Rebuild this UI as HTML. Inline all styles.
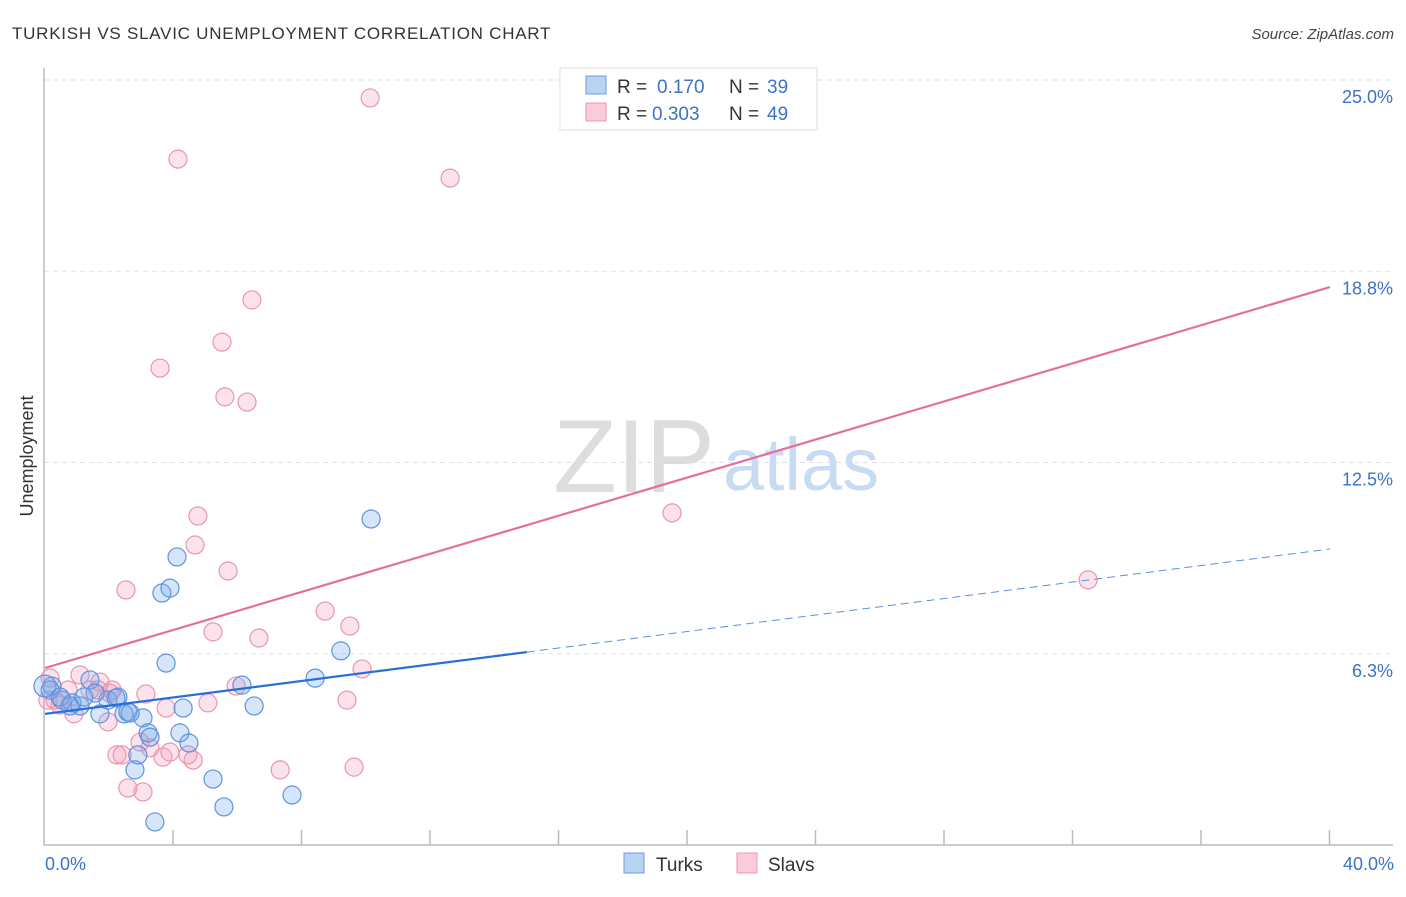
<!DOCTYPE html>
<html><head><meta charset="utf-8"><style>
body{margin:0;background:#fff;font-family:"Liberation Sans",sans-serif;}
svg text{font-family:"Liberation Sans",sans-serif;}
</style></head><body>
<svg id="chart" width="1406" height="892" viewBox="0 0 1406 892">
<text x="12" y="39" font-size="17" fill="#333" letter-spacing="0.75">TURKISH VS SLAVIC UNEMPLOYMENT CORRELATION CHART</text>
<text x="1394" y="39" font-size="15" fill="#444" font-style="italic" text-anchor="end">Source: ZipAtlas.com</text>
<g id="grid"></g>
<text x="634" y="492" font-size="104" fill="#ddd" font-family="Liberation Serif" text-anchor="middle">ZIP</text>
<text x="801" y="490" font-size="74" fill="#c9dbf2" text-anchor="middle">atlas</text>
<line x1="44" y1="68" x2="44" y2="845" stroke="#bbb" stroke-width="1.5"/>
<line x1="44" y1="845" x2="1393" y2="845" stroke="#bbb" stroke-width="1.5"/>
<g id="ticks"></g>
<g id="ylabels"></g>
<text transform="translate(33,456) rotate(-90)" font-size="18" fill="#333" text-anchor="middle">Unemployment</text>
<text x="45" y="870" font-size="18" fill="#3d72c9">0.0%</text>
<text x="1394" y="870" font-size="18" fill="#3d72c9" text-anchor="end">40.0%</text>
<g id="pts"></g>
<g id="lines"></g>
<g>
<rect x="560" y="68" width="257" height="62" fill="#fff" stroke="#ddd"/>
<rect x="586" y="76" width="20" height="18" fill="#b9d3f3" stroke="#6a9be0"/>
<rect x="586" y="103" width="20" height="18" fill="#fbcbd9" stroke="#e898b2"/>
<text x="617" y="93" font-size="19" fill="#333">R = <tspan x="657" fill="#3d72c9">0.170</tspan><tspan x="729">N = </tspan><tspan x="767" fill="#3d72c9">39</tspan></text>
<text x="617" y="120" font-size="19" fill="#333">R = <tspan x="652" fill="#3d72c9">0.303</tspan><tspan x="729">N = </tspan><tspan x="767" fill="#3d72c9">49</tspan></text>
</g>
<g>
<rect x="624" y="853" width="20" height="20" fill="#b9d3f3" stroke="#6a9be0"/>
<text x="656" y="871" font-size="19" fill="#333">Turks</text>
<rect x="737" y="853" width="20" height="20" fill="#fbcbd9" stroke="#e898b2"/>
<text x="768" y="871" font-size="19" fill="#333">Slavs</text>
</g>
</svg>
<script>
const yTicks=[6.25,12.5,18.75,25];
const yTickLabels=["6.3%","12.5%","18.8%","25.0%"];
const turksX=[0.22,0.16,0.53,0.84,1.09,1.40,1.71,1.96,2.27,2.46,2.58,3.05,3.21,3.27,3.64,3.89,4.11,3.77,4.30,4.20,4.48,2.80,2.89,3.42,5.23,5.57,6.13,6.51,7.69,8.41,9.21,10.15,2.21,0.47,1.56,0.78,2.65,0.0,1.21];
const turksY=[5.75,5.62,5.29,5.20,5.10,5.95,4.84,5.29,5.39,4.84,4.90,4.71,4.22,4.08,8.79,8.95,9.97,6.50,5.03,4.22,3.89,3.01,3.50,1.31,2.71,1.80,5.78,5.10,2.19,6.01,6.90,11.21,5.36,5.39,5.52,5.10,4.87,5.75,5.39];
const slavsX=[0.16,0.31,0.72,0.90,1.09,1.40,1.71,1.96,2.02,2.24,2.40,2.52,2.58,3.05,3.14,3.58,3.67,3.77,3.89,4.14,4.45,4.61,4.67,4.76,5.07,5.23,5.70,5.60,5.51,5.95,6.29,6.44,6.66,7.32,8.72,9.40,9.49,9.62,9.87,10.12,12.61,19.52,32.47,0.09,0.47,1.65,2.09,2.96,3.27];
const slavsY=[6.01,5.29,5.62,4.84,6.11,5.62,5.88,4.58,5.52,3.50,3.50,8.89,2.42,2.29,5.49,16.14,3.43,5.03,3.59,22.97,3.50,3.33,10.36,11.31,5.20,7.52,9.51,15.20,16.99,5.75,15.03,18.37,7.32,3.01,8.20,5.29,7.71,3.10,6.31,24.97,22.35,11.41,9.22,5.29,5.13,5.62,5.62,3.92,3.73];
const turksTrend=[[0,4.84],[15,6.86],[40,10.23]];
const slavsTrend=[[0,6.34],[40,18.79]];
const NS="http://www.w3.org/2000/svg";
const X=v=>45+v/40*1285;
const Yp=v=>862-v*30.6;
function mk(tag,attrs,parent){const e=document.createElementNS(NS,tag);for(const k in attrs)e.setAttribute(k,attrs[k]);document.getElementById(parent).appendChild(e);return e;}
yTicks.forEach((t,i)=>{
 const g=mk('line',{x1:44,x2:1393,y1:Yp(t)-17,y2:Yp(t)-17,stroke:'#e2e2e2','stroke-dasharray':'5,4'},'grid');
 
 
 const l=mk('text',{x:1393,y:Yp(t)+6,'font-size':18,fill:'#3d72c9','text-anchor':'end'},'ylabels');
 l.textContent=yTickLabels[i];
 
 
});
for(let i=1;i<=10;i++){
 const t=mk('line',{x1:X(i*4)-0.5,x2:X(i*4)-0.5,y1:830,y2:845,stroke:'#bbb','stroke-width':1.5},'ticks');
 
 
}
function pts(xs,ys,fill,stroke,name){
 xs.forEach((x,i)=>{
  const c=mk('circle',{cx:X(x),cy:Yp(ys[i]),r:(x===0?11:9),fill:fill,stroke:stroke,'stroke-width':1.2},'pts');
  
  
 });
}
pts(slavsX,slavsY,'rgba(245,160,190,0.3)','#e995b1','slavs-point');
pts(turksX,turksY,'rgba(120,170,235,0.3)','#5e93dc','turks-point');
const s=mk('line',{x1:X(slavsTrend[0][0]),y1:Yp(slavsTrend[0][1]),x2:X(slavsTrend[1][0]),y2:Yp(slavsTrend[1][1]),stroke:'#e4709a','stroke-width':2.2},'lines');


const t1=mk('line',{x1:X(turksTrend[0][0]),y1:Yp(turksTrend[0][1]),x2:X(turksTrend[1][0]),y2:Yp(turksTrend[1][1]),stroke:'#2a6fd8','stroke-width':2.2},'lines');


const t2=mk('line',{x1:X(turksTrend[1][0]),y1:Yp(turksTrend[1][1]),x2:X(turksTrend[2][0]),y2:Yp(turksTrend[2][1]),stroke:'#5b8fdc','stroke-width':1,'stroke-dasharray':'8,5'},'lines');


</script>
</body></html>
